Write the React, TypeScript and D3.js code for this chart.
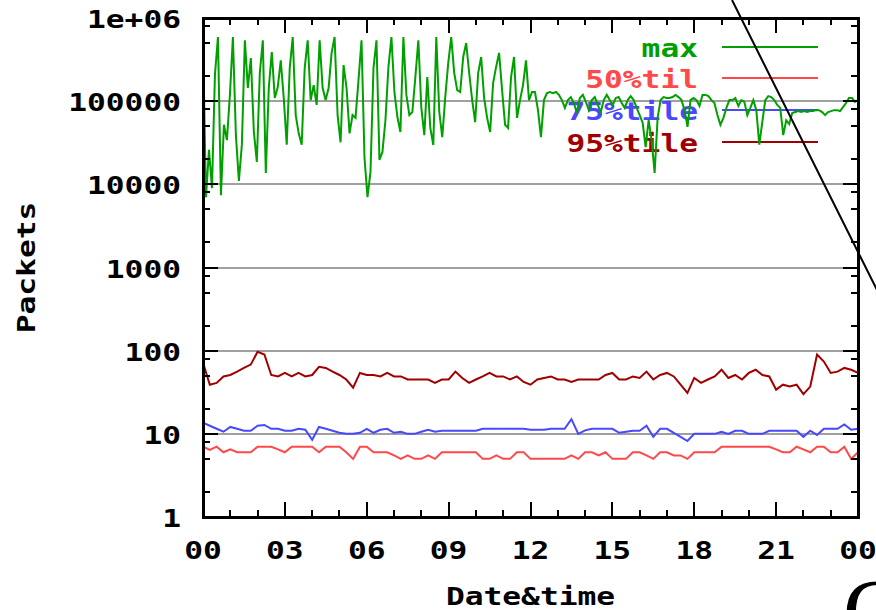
import React from "react";
import * as d3 from "d3";

// Packets per interval over one day (log scale).
// "max" is sampled densely; the percentiles every 15 minutes.
const maxSeries = [
  540000, 7000, 26000, 9000, 210000, 590000, 7400, 52000, 34000, 120000,
  590000, 39000, 11000, 30000, 540000, 144000, 330000, 43000, 18600, 220000,
  540000, 13700, 144000, 390000, 109000, 148000, 310000, 109000, 30000, 250000,
  590000, 68000, 41000, 30000, 250000, 540000, 103000, 156000, 90000, 540000,
  144000, 103000, 144000, 380000, 590000, 68000, 32000, 272000, 144000, 41000,
  68000, 63000, 180000, 540000, 20700,
  7000, 14100, 250000, 540000, 19600, 24500, 59000, 258000, 590000, 129000,
  64500, 42600, 590000, 119000, 68000, 74000, 195000, 540000, 83000, 39000,
  195000, 47600, 29700, 590000, 74000, 37000, 112000, 288000, 590000, 218000,
  136000, 129000, 340000, 500000, 218000, 103000, 56000, 218000, 340000, 109000,
  63000, 42600, 165000, 258000, 380000, 136000, 52000, 47600, 195000, 340000,
  63000, 103000, 156000, 310000, 103000, 129000,
  129000, 78000, 37000, 103000, 125000, 129000, 125000, 129000, 119000, 103000,
  83000, 103000, 112000, 95000, 72000, 109000, 119000, 98000, 78000, 103000,
  112000, 90000, 74000, 103000, 119000, 103000, 90000, 109000, 112000, 95000,
  83000, 103000, 115000, 103000, 83000, 68000, 55000, 28000, 59000, 34000,
  13700, 63000, 103000, 112000, 109000, 109000, 112000, 119000, 112000, 103000,
  78000, 49000, 103000, 109000, 103000, 87500, 119000, 119000, 115000, 103000,
  95000, 68000, 52000, 63000, 83000, 103000, 103000, 109000, 87500, 103000,
  98000, 68000, 83000, 103000, 78000, 30000, 56000, 103000, 115000, 112000,
  103000, 90000, 83000, 39000, 59000, 53000, 72000, 74000, 76000, 74000,
  76000, 74000, 76000, 76000, 78000, 78000, 74000, 68000, 74000, 76000,
  78000, 78000, 76000, 85000, 95000, 109000, 109000, 98000, 103000,
];

const p50Series = [
  7, 6.4, 7, 6, 6.5, 6, 6, 6, 7, 7,
  7, 6.5, 6, 7, 7, 7, 7, 6, 7, 7,
  7, 6, 5, 7, 7, 6, 6, 6, 5.5, 5,
  5.5, 5, 5, 5.5, 5, 6, 6, 6, 6, 6,
  6, 5, 5, 5.5, 5, 5, 6, 6, 5, 5,
  5, 5, 5, 5, 5.5, 5, 6, 6, 5.5, 6,
  5, 5, 5, 6, 6, 5.5, 5, 6, 6, 5.5,
  5.5, 5, 6, 6, 6, 6, 7, 7, 7, 7,
  7, 7, 7, 7, 6.5, 6, 6, 7, 6.5, 6,
  7, 7, 6, 6, 7, 5, 6,
];

const p75Series = [
  13.6, 12.5, 11.5, 10.6, 12.1, 11.5, 10.9, 10.9, 12.5, 12.8,
  11.5, 11.5, 10.9, 10.9, 11.5, 11.2, 8.5, 12.1, 11.5, 10.9,
  10.3, 10, 10, 10.3, 11.5, 10.3, 11.2, 11.5, 10.3, 10.6,
  10, 10, 10.6, 11.2, 10.6, 10.9, 10.9, 10.9, 10.9, 10.9,
  10.9, 11.5, 11.5, 11.5, 11.5, 11.5, 11.5, 11.5, 11.2, 11.2,
  11.2, 11.5, 11.5, 11.5, 15, 10, 11, 11.5, 11.5, 11.5,
  11.5, 10.3, 10.6, 10.9, 10.9, 12.5, 9.2, 11.5, 11.5, 10.3,
  9.2, 8.2, 10, 10, 10, 10, 10.6, 10, 10.9, 10.9,
  10, 10, 10, 10.9, 10.9, 10.9, 10.9, 10.9, 9.2, 10.9,
  9.7, 11.5, 11.5, 11.5, 13, 11.2, 11.5,
];

const p95Series = [
  72, 39, 41, 49, 51, 56, 62, 68, 97, 90,
  51, 49, 54, 49, 54, 49, 51, 64, 62, 56,
  51, 45, 36, 54, 51, 51, 49, 54, 49, 49,
  45, 45, 45, 45, 41, 45, 45, 56, 47, 41,
  45, 49, 54, 49, 49, 45, 49, 42, 39, 45,
  47, 49, 45, 45, 42, 45, 45, 45, 45, 51,
  54, 45, 45, 49, 47, 56, 45, 51, 54, 49,
  39, 31, 47, 41, 45, 49, 59, 47, 51, 45,
  54, 59, 51, 49, 34, 39, 37, 39, 30, 37,
  90, 74, 54, 56, 62, 59, 54,
];

const seriesNames = ["max", "50%til", "75%tile", "95%tile"];
const seriesColors = ["#00a000", "#ff4848", "#4848ff", "#a00000"];

const hourTicks = [0, 3, 6, 9, 12, 15, 18, 21, 24];
const hourLabels = ["00", "03", "06", "09", "12", "15", "18", "21", "00"];
const yTicks = [1, 10, 100, 1000, 10000, 100000, 1000000];
const yLabels = ["1", "10", "100", "1000", "10000", "100000", "1e+06"];
const minorMultipliers = [2, 5, 8];

const W = 876;
const H = 610;
const L = 203;
const R = 858;
const T = 18;
const B = 517;
const SX = 1.25;
const FONT = "'DejaVu Sans Mono', monospace";

function Mono(props: {
  x: number;
  y: number;
  anchor?: string;
  color?: string;
  rotate?: number;
  children: React.ReactNode;
}) {
  const { x, y, anchor = "start", color = "#000", rotate = 0, children } = props;
  return (
    <text
      transform={`translate(${x},${y}) rotate(${rotate}) scale(${SX},1)`}
      textAnchor={anchor}
      fill={color}
      fontFamily={FONT}
      fontWeight="bold"
      fontSize={25}
    >
      {children}
    </text>
  );
}

export default function App() {
  const x = d3.scaleLinear().domain([0, 24]).range([L, R]);
  const y = d3.scaleLog().domain([1, 1e6]).range([B, T]);

  const toPoints = (vals: number[]) =>
    vals.map((v, i) => [x((i * 24) / (vals.length - 1)), y(v)] as [number, number]);
  const line = d3.line().curve(d3.curveLinear);

  const series = [maxSeries, p50Series, p75Series, p95Series];

  const minorY: number[] = [];
  yTicks.slice(0, -1).forEach((d) => minorMultipliers.forEach((m) => minorY.push(d * m)));
  const minorX = d3.range(0, 25).filter((h) => h % 3 !== 0);

  const legendY = [47, 78, 110, 142];

  return (
    <svg
      width={W}
      height={H}
      style={{ position: "absolute", left: 0, top: 0, background: "#fff" }}
    >
      <defs>
        <clipPath id="plot">
          <rect x={L} y={T} width={R - L} height={B - T} />
        </clipPath>
      </defs>

      {/* grid at each decade */}
      {yTicks.slice(1, -1).map((v) => (
        <line
          key={"g" + v}
          x1={L}
          x2={R}
          y1={y(v)}
          y2={y(v)}
          stroke="#a0a0a0"
          strokeWidth={2}
          shapeRendering="crispEdges"
        />
      ))}

      {/* legend */}
      {seriesNames.map((name, i) => (
        <g key={name}>
          <Mono x={698} y={legendY[i] + 10} anchor="end" color={seriesColors[i]}>
            {name}
          </Mono>
          <line
            x1={722}
            x2={818}
            y1={legendY[i]}
            y2={legendY[i]}
            stroke={seriesColors[i]}
            strokeWidth={2}
            shapeRendering="crispEdges"
          />
        </g>
      ))}

      {/* data */}
      <g clipPath="url(#plot)">
        {series.map((vals, i) => (
          <path
            key={seriesNames[i]}
            d={line(toPoints(vals)) || ""}
            fill="none"
            stroke={seriesColors[i]}
            strokeWidth={2}
            strokeLinejoin="miter"
          />
        ))}
      </g>

      {/* ticks */}
      <g stroke="#000" strokeWidth={2} shapeRendering="crispEdges">
        {yTicks.map((v) => (
          <g key={"ty" + v}>
            <line x1={L} x2={L + 15} y1={y(v)} y2={y(v)} />
            <line x1={R - 15} x2={R} y1={y(v)} y2={y(v)} />
          </g>
        ))}
        {minorY.map((v) => (
          <g key={"my" + v}>
            <line x1={L} x2={L + 7} y1={y(v)} y2={y(v)} />
            <line x1={R - 7} x2={R} y1={y(v)} y2={y(v)} />
          </g>
        ))}
        {hourTicks.map((h) => (
          <g key={"tx" + h}>
            <line x1={x(h)} x2={x(h)} y1={B} y2={B - 15} />
            <line x1={x(h)} x2={x(h)} y1={T} y2={T + 15} />
          </g>
        ))}
        {minorX.map((h) => (
          <g key={"mx" + h}>
            <line x1={x(h)} x2={x(h)} y1={B} y2={B - 7} />
            <line x1={x(h)} x2={x(h)} y1={T} y2={T + 7} />
          </g>
        ))}
      </g>

      {/* frame */}
      <rect
        x={L}
        y={T}
        width={R - L}
        height={B - T}
        fill="none"
        stroke="#000"
        strokeWidth={3}
        shapeRendering="crispEdges"
      />

      {/* tick labels */}
      {yTicks.map((v, i) => (
        <Mono key={"ly" + v} x={181} y={y(v) + 10} anchor="end">
          {yLabels[i]}
        </Mono>
      ))}
      {hourTicks.map((h, i) => (
        <Mono key={"lx" + i} x={x(h)} y={559} anchor="middle">
          {hourLabels[i]}
        </Mono>
      ))}

      {/* axis titles */}
      <Mono x={(L + R) / 2} y={605} anchor="middle">
        Date&amp;time
      </Mono>
      <Mono x={35} y={(T + B) / 2} anchor="middle" rotate={-90}>
        Packets
      </Mono>

      {/* overlay stroke and glyph */}
      <line x1={732} y1={0} x2={882} y2={300} stroke="#000" strokeWidth={2} />
      <text
        x={843}
        y={642}
        fontFamily="'Liberation Serif', serif"
        fontSize={90}
        fill="#000"
      >
        C
      </text>
    </svg>
  );
}
